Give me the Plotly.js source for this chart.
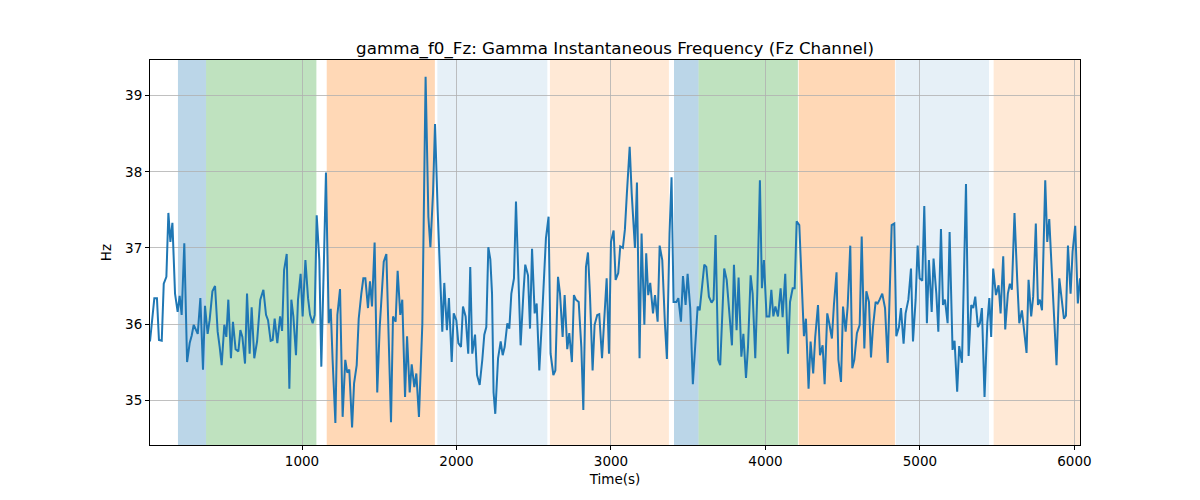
<!DOCTYPE html>
<html>
<head>
<meta charset="utf-8">
<script src="https://cdn.plot.ly/plotly-3.0.1.min.js"></script>
<style>
  body { margin: 0; background: #fff; }
  #chart { width: 1200px; height: 500px; }
</style>
</head>
<body>
<div id="chart"></div>
<script>
var timeS = [16, 44, 61, 74, 92, 105, 122, 135, 148, 161, 178, 195, 208, 221, 238, 256, 273, 286, 299, 312,
  325, 342, 359, 372, 389, 402, 420, 437, 454, 467, 480, 497, 510, 523, 540, 553, 570, 588, 601, 614,
  631, 644, 661, 674, 691, 709, 730, 750, 767, 780, 797, 810, 823, 840, 858, 871, 884, 901, 918, 931,
  944, 961, 974, 991, 1004, 1022, 1039, 1052, 1069, 1082, 1095, 1112, 1125, 1142, 1155, 1173, 1186, 1198, 1216, 1229,
  1246, 1263, 1280, 1293, 1306, 1324, 1337, 1354, 1367, 1384, 1397, 1410, 1427, 1440, 1453, 1470, 1487, 1503, 1516, 1529,
  1546, 1559, 1576, 1589, 1606, 1619, 1636, 1649, 1667, 1680, 1697, 1710, 1727, 1740, 1757, 1779, 1800, 1818, 1831, 1848,
  1861, 1878, 1891, 1908, 1921, 1938, 1951, 1969, 1982, 1999, 2012, 2029, 2042, 2059, 2076, 2089, 2102, 2120, 2133, 2150,
  2167, 2180, 2193, 2206, 2219, 2230, 2240, 2251, 2269, 2286, 2299, 2312, 2329, 2342, 2355, 2372, 2385, 2402, 2415, 2433,
  2445, 2463, 2476, 2489, 2506, 2519, 2536, 2553, 2566, 2579, 2596, 2609, 2627, 2640, 2657, 2670, 2687, 2700, 2717, 2730,
  2747, 2760, 2773, 2791, 2808, 2821, 2838, 2851, 2864, 2881, 2894, 2911, 2924, 2942, 2955, 2972, 2987, 3000, 3017, 3030,
  3047, 3060, 3077, 3090, 3103, 3121, 3134, 3155, 3168, 3185, 3198, 3216, 3228, 3241, 3254, 3272, 3285, 3302, 3315, 3332,
  3349, 3362, 3379, 3392, 3405, 3423, 3436, 3453, 3466, 3483, 3496, 3513, 3530, 3548, 3561, 3574, 3591, 3604, 3617, 3634,
  3651, 3664, 3677, 3694, 3707, 3733, 3749, 3766, 3783, 3796, 3813, 3826, 3844, 3857, 3874, 3887, 3904, 3917, 3934, 3947,
  3964, 3977, 3990, 4007, 4025, 4038, 4051, 4064, 4081, 4098, 4111, 4128, 4146, 4159, 4176, 4189, 4202, 4219, 4236, 4249,
  4262, 4279, 4292, 4309, 4322, 4340, 4353, 4370, 4383, 4400, 4413, 4430, 4443, 4460, 4472, 4489, 4502, 4519, 4532, 4549,
  4562, 4575, 4592, 4610, 4623, 4640, 4653, 4670, 4683, 4696, 4713, 4726, 4739, 4756, 4774, 4791, 4804, 4817, 4834, 4847,
  4864, 4877, 4894, 4907, 4925, 4942, 4955, 4972, 4985, 4998, 5015, 5028, 5045, 5058, 5076, 5088, 5106, 5119, 5136, 5149,
  5162, 5179, 5192, 5211, 5224, 5241, 5254, 5272, 5298, 5315, 5332, 5345, 5358, 5375, 5388, 5401, 5418, 5436, 5449, 5461,
  5474, 5492, 5509, 5522, 5539, 5552, 5569, 5582, 5595, 5612, 5630, 5643, 5660, 5673, 5690, 5703, 5720, 5733, 5750, 5764,
  5776, 5790, 5811, 5824, 5837, 5854, 5884, 5902, 5915, 5932, 5945, 5958, 5975, 5988, 6005, 6022, 6036];

var freqHz = [35.77, 36.34, 36.34, 35.79, 35.78, 36.53, 36.62, 37.46, 37.08, 37.33, 36.4, 36.16, 36.37, 36.12, 37.06, 35.5, 35.75, 35.85, 35.99, 35.93,
  35.87, 36.34, 35.4, 36.24, 35.87, 36.05, 36.43, 36.5, 35.9, 35.7, 35.46, 35.99, 35.83, 36.32, 35.55, 36.03, 35.67, 35.64, 35.92, 35.83,
  35.48, 36.4, 35.61, 36.22, 35.55, 35.77, 36.32, 36.45, 36.12, 36.05, 35.78, 35.79, 36.07, 35.75, 36.1, 35.91, 36.71, 36.92, 35.15, 36.32,
  36.1, 35.59, 36.32, 36.66, 36.1, 36.84, 36.34, 36.12, 36.01, 36.12, 37.43, 36.84, 35.44, 36.84, 37.99, 36.01, 36.2, 35.53, 34.7, 36.12,
  36.46, 34.78, 35.53, 35.36, 35.4, 34.64, 35.22, 35.46, 36.07, 36.4, 36.6, 36.6, 36.21, 36.56, 36.23, 37.07, 35.1, 35.96, 36.4, 36.82,
  36.92, 35.96, 34.71, 36.1, 36.03, 36.7, 36.12, 36.32, 35.04, 35.84, 35.1, 35.47, 35.17, 35.35, 34.78, 36.01, 39.25, 37.41, 37.01, 37.72,
  38.63, 37.5, 36.75, 35.9, 36.54, 35.92, 36.34, 35.5, 36.14, 36.05, 35.75, 35.7, 36.23, 36.1, 35.61, 36.75, 35.61, 35.86, 35.33, 35.2,
  35.53, 35.86, 35.96, 37.01, 36.85, 36.4, 35.1, 34.82, 35.55, 35.77, 35.59, 35.7, 36.01, 35.94, 36.4, 36.6, 37.61, 36.49, 35.72, 36.4,
  36.78, 36.64, 35.94, 36.99, 36.14, 36.27, 35.39, 36.05, 36.62, 37.13, 37.41, 35.61, 35.33, 35.39, 36.62, 36.4, 35.83, 36.38, 35.67, 35.88,
  35.5, 36.38, 36.32, 36.29, 35.7, 34.87, 36.75, 36.94, 36.38, 35.39, 35.99, 36.12, 36.13, 35.55, 36.01, 36.6, 35.61, 37.08, 37.23, 36.58,
  36.67, 37.02, 37.0, 37.24, 37.72, 38.33, 37.72, 37.0, 37.86, 35.55, 37.19, 35.99, 36.93, 36.38, 36.54, 36.14, 36.38, 36.03, 37.03, 36.84,
  36.01, 35.54, 37.19, 37.93, 36.29, 36.29, 36.34, 36.03, 36.63, 36.25, 36.66, 36.21, 35.21, 35.77, 36.23, 36.18, 36.56, 36.78, 36.75, 36.36,
  36.28, 36.32, 37.17, 35.53, 35.46, 36.73, 36.58, 36.18, 35.72, 36.78, 35.92, 36.61, 35.57, 35.87, 35.29, 35.7, 36.64, 36.4, 35.55, 36.4,
  37.89, 36.47, 36.84, 36.1, 36.1, 36.45, 36.1, 36.23, 36.1, 36.47, 36.09, 36.66, 35.61, 36.29, 36.47, 36.47, 37.35, 37.3, 36.32, 35.84,
  36.07, 35.15, 35.77, 35.35, 35.83, 36.25, 35.59, 35.72, 35.21, 36.14, 36.01, 35.81, 36.25, 36.68, 35.53, 35.24, 36.23, 35.9, 36.23, 37.03,
  35.42, 35.53, 35.88, 35.99, 37.15, 35.68, 36.43, 36.29, 35.56, 35.96, 36.29, 36.27, 36.32, 36.4, 36.21, 35.49, 36.4, 37.3, 37.32, 35.84,
  35.96, 36.21, 35.74, 36.14, 36.32, 36.73, 35.77, 36.32, 37.03, 36.6, 36.57, 37.55, 36.01, 36.84, 36.16, 36.86, 36.4, 35.9, 37.25, 36.25,
  36.32, 36.01, 37.21, 35.66, 35.78, 35.11, 35.71, 35.49, 37.84, 35.58, 36.25, 36.21, 36.36, 35.96, 36.01, 36.21, 35.04, 36.01, 36.34, 35.83,
  36.73, 36.38, 36.51, 36.14, 36.89, 35.93, 36.4, 36.53, 36.45, 37.46, 36.56, 36.01, 36.18, 35.96, 35.62, 36.58, 36.1, 36.36, 37.32, 36.25,
  36.32, 36.18, 37.89, 37.08, 37.38, 36.67, 35.46, 36.6, 36.4, 36.07, 36.11, 37.03, 36.4, 36.95, 37.29, 36.27, 36.6];

// phase bands behind the trace
var bandStart = [197, 379, 1160, 1876, 2605, 3408, 3567, 4215, 4843, 5477];
var bandEnd   = [379, 1093, 1860, 2588, 3375, 3567, 4210, 4838, 5447, 6040];
var bandColor = ['rgba(31,119,180,0.3)', 'rgba(44,160,44,0.3)', 'rgba(255,127,14,0.3)',
                 'rgba(31,119,180,0.11)', 'rgba(255,127,14,0.17)',
                 'rgba(31,119,180,0.3)', 'rgba(44,160,44,0.3)', 'rgba(255,127,14,0.3)',
                 'rgba(31,119,180,0.11)', 'rgba(255,127,14,0.17)'];

var shapes = bandStart.map(function (s, i) {
    return {
        type: 'rect', xref: 'x', yref: 'paper',
        x0: s, x1: bandEnd[i], y0: 0, y1: 1,
        fillcolor: bandColor[i], line: {width: 0}, layer: 'below'
    };
});

var trace = {
    x: timeS,
    y: freqHz,
    type: 'scatter',
    mode: 'lines',
    line: {color: '#1f77b4', width: 2},
    hoverinfo: 'x+y'
};

var axisStyle = {
    showgrid: true, gridcolor: '#b0b0b0', gridwidth: 0.8,
    showline: true, linecolor: '#000', linewidth: 1, mirror: true,
    ticks: 'outside', ticklen: 4, tickcolor: '#000',
    zeroline: false,
    tickfont: {family: 'DejaVu Sans', size: 13.5, color: '#000'}
};

var layout = {
    width: 1200, height: 500,
    margin: {l: 150, r: 120, t: 60, b: 55},
    paper_bgcolor: '#fff', plot_bgcolor: '#fff',
    showlegend: false,
    font: {family: 'DejaVu Sans', color: '#000'},
    title: {
        text: 'gamma_f0_Fz: Gamma Instantaneous Frequency (Fz Channel)',
        font: {family: 'DejaVu Sans', size: 16.7, color: '#000'},
        x: 0.5, xref: 'paper', y: 1, yref: 'paper', yanchor: 'bottom', pad: {b: 6}
    },
    xaxis: Object.assign({}, axisStyle, {
        range: [16, 6036], dtick: 1000, tick0: 0,
        title: {text: 'Time(s)', font: {family: 'DejaVu Sans', size: 13.5, color: '#000'}, standoff: 6}
    }),
    yaxis: Object.assign({}, axisStyle, {
        range: [34.41, 39.47], dtick: 1, tick0: 35,
        title: {text: 'Hz', font: {family: 'DejaVu Sans', size: 13.5, color: '#000'}, standoff: 10}
    }),
    shapes: shapes
};

Plotly.newPlot('chart', [trace], layout, {displayModeBar: false, staticPlot: true});
</script>
</body>
</html>
